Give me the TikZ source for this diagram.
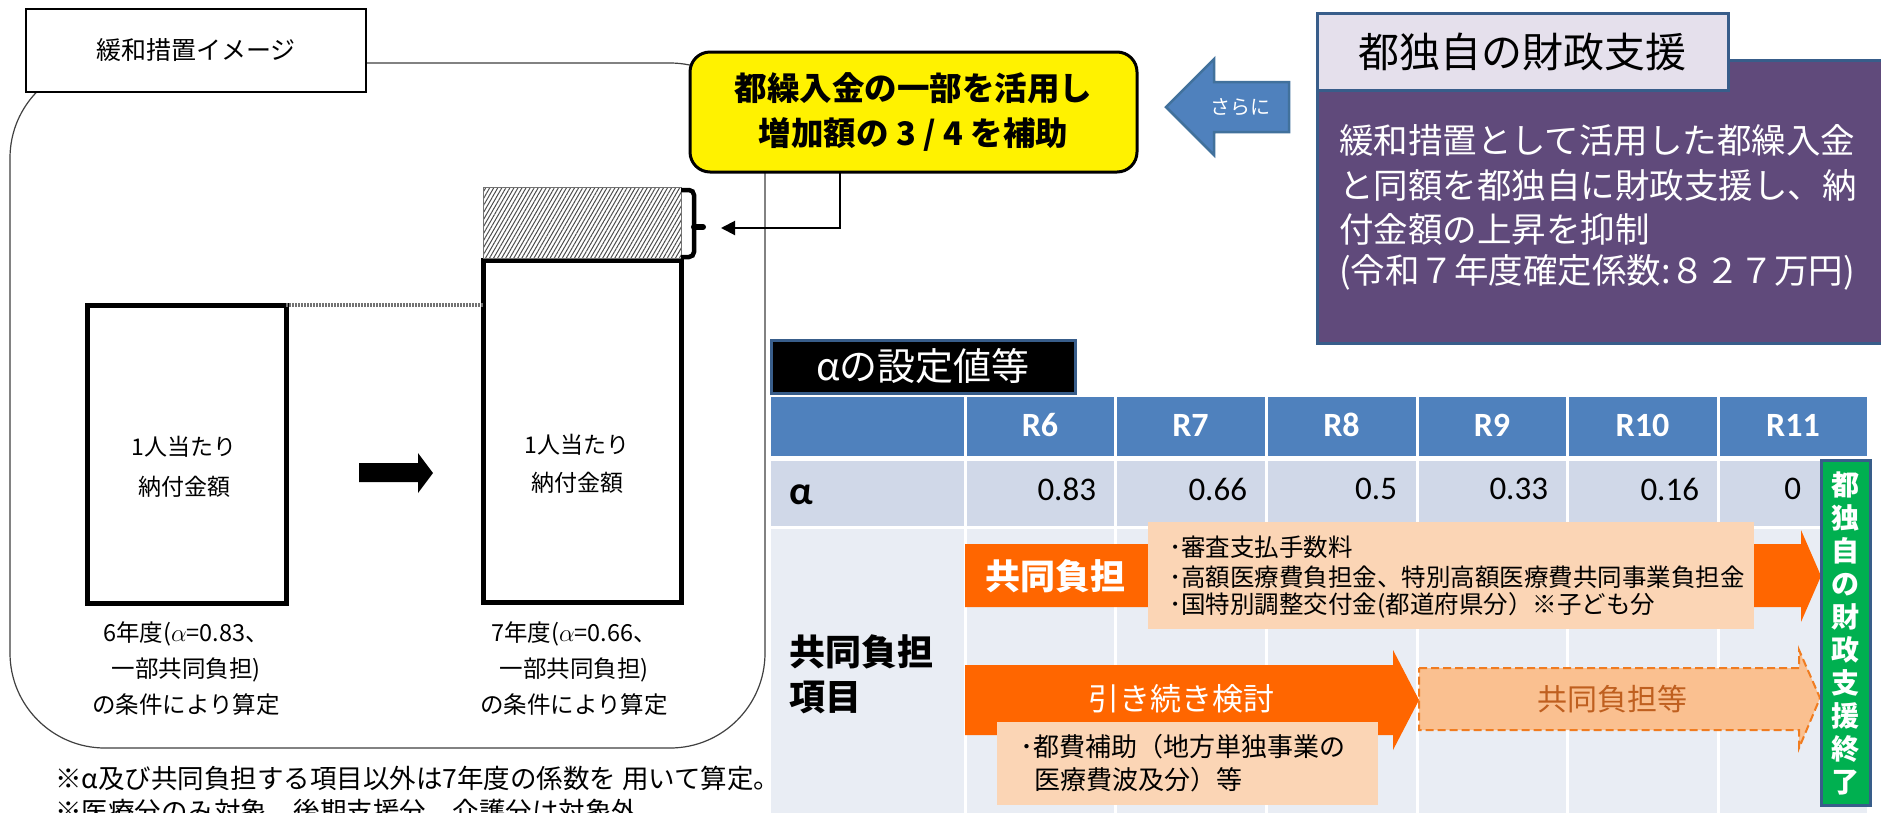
\documentclass[tikz,border=0pt]{standalone}
\usepackage{fontspec}
\setmainfont{Noto Sans CJK JP}
\newfontfamily\lat{Carlito}
\usetikzlibrary{arrows.meta,patterns.meta}
\definecolor{hdrblue}{HTML}{4F81BD}
\definecolor{rowa}{HTML}{D0D8E8}
\definecolor{rowb}{HTML}{E9EDF4}
\definecolor{orng}{HTML}{FF6600}
\definecolor{peach}{HTML}{FBD5B5}
\definecolor{lightorng}{HTML}{FAC090}
\definecolor{dashorng}{HTML}{F07C20}
\definecolor{brownorng}{HTML}{BF5F1F}
\definecolor{purp}{HTML}{604A7B}
\definecolor{lav}{HTML}{E5E0EC}
\definecolor{bordblue}{HTML}{385D8A}
\definecolor{arrblue}{HTML}{4F81BD}
\definecolor{arrblueb}{HTML}{41719C}
\definecolor{grn}{HTML}{00B050}
\newcommand{\myfs}[2]{\fontsize{#1}{#2}\selectfont}
\tikzset{
  thickbar/.style={draw, line width=5pt},
  bluebord/.style={draw=bordblue, line width=3pt},
  peachbox/.style={fill=peach},
}
\begin{document}
\begin{tikzpicture}[x=1pt,y=-1pt, every node/.style={inner sep=0pt, outer sep=0pt}]
\useasboundingbox (0,0) rectangle (1881,812);
\fill[white] (0,0) rectangle (1881,812);

% ---------- left panel ----------
\node[draw=black!75, line width=1.2pt, rounded corners=95pt, minimum width=755, minimum height=685] (panel) at (387.5,405.5) {};
\node[draw, line width=1.2pt, fill=white, minimum width=340, minimum height=83, font=\myfs{25}{28}] (title) at (196,50.5) {緩和措置イメージ};

\node[thickbar, minimum width=199, minimum height=298] (bar6) at (186.5,454) {};
\node[thickbar, minimum width=198, minimum height=342] (bar7) at (582,431) {};
\node[draw=black!55, line width=1pt, minimum width=198, minimum height=71,
      pattern={Lines[angle=60,distance=3.5pt,line width=1pt]}, pattern color=black!70] (hatch) at (582,222.5) {};

\node[align=center, font=\myfs{23}{40}] (t6) at (184,467) {1人当たり\\納付金額};
\node[align=center, font=\myfs{23}{38}] (t7) at (577,464) {1人当たり\\納付金額};

\draw[black!55, line width=4pt, dash pattern=on 1.5pt off 1.5pt] (bar6.north east) -- (bar6.north east -| bar7.west);

\fill (359,463) -- (418,463) -- (418,453) -- (433,473) -- (418,493) -- (418,482) -- (359,482) -- cycle;

\node[align=center, font=\myfs{23.5}{36}] (c6) at (186,669) {6年度($\alpha$=0.83、\\一部共同負担)\\の条件により算定};
\node[align=center, font=\myfs{23.5}{36}] (c7) at (574,669) {7年度($\alpha$=0.66、\\一部共同負担)\\の条件により算定};

\node[anchor=west, font=\myfs{26.5}{33}] (note1) at (55,778) {※α及び共同負担する項目以外は7年度の係数を 用いて算定。};
\node[anchor=west, font=\myfs{26.5}{33}] (note2) at (55,811) {※医療分のみ対象、後期支援分、介護分は対象外};

% bracket
\draw[line width=4.5pt, rounded corners=5pt] (681,190) -- (694,190) -- (694,257) -- (681,257);
\draw[line width=6pt, line cap=round] (694,227) -- (703,227);

% yellow box and connector
\node[draw, line width=3pt, fill=yellow, rounded corners=20pt, minimum width=447, minimum height=120, align=center, font=\bfseries\myfs{32.5}{45}] (yellow) at (913.5,112)
  {都繰入金の一部を活用し\\増加額の 3 / 4 を補助};
\coordinate (brkpt) at (721,228);
\draw[line width=2pt, -{Triangle[length=14pt,width=14pt]}] (yellow.south -| 840,0) |- (brkpt);

% blue arrow
\draw[fill=arrblue, draw=arrblueb, line width=2.5pt, line join=miter] (1166,107) -- (1214,59) -- (1214,82) -- (1289,82) -- (1289,132) -- (1214,132) -- (1214,155) -- cycle;
\node[text=white, font=\myfs{20}{24}] (sarani) at (1240,107) {さらに};

% ---------- purple box ----------
\node[bluebord, fill=purp, minimum width=568, minimum height=283] (purple) at (1601,201.5) {};
\node[bluebord, fill=lav, minimum width=411, minimum height=77, font=\myfs{41}{45}] (hdr) at (1522.5,51.5) {都独自の財政支援};
\node[anchor=west, text=white, font=\myfs{34.5}{40}] (b1) at (1339,140) {緩和措置として活用した都繰入金};
\node[anchor=west, text=white, font=\myfs{34.5}{40}] (b2) at (1339,185) {と同額を都独自に財政支援し、納};
\node[anchor=west, text=white, font=\myfs{34.5}{40}] (b3) at (1339,229) {付金額の上昇を抑制};
\node[anchor=west, text=white, font=\myfs{34.5}{40}] (b4) at (1339,272) {(令和７年度確定係数:８２７万円)};

% ---------- table ----------
\node[bluebord, fill=black, minimum width=304, minimum height=53, text=white, font=\myfs{38}{40}] (alphattl) at (923,366.5) {αの設定値等};

\fill[hdrblue] (771,397) rectangle (963.5,456);
\fill[rowa] (771,461) rectangle (963.5,526);
\fill[rowb] (771,529) rectangle (963.5,820);
\foreach \cl/\cr/\lab/\val/\vx in {965/1115/R6/0.83/1096, 1115/1266/R7/0.66/1247, 1266/1417/R8/0.5/1397, 1417/1567/R9/0.33/1548, 1567/1718/R10/0.16/1699, 1718/1868/R11/0/1801}{
  \fill[hdrblue] (\cl+1.5,397) rectangle (\cr-1.5,456);
  \fill[rowa] (\cl+1.5,461) rectangle (\cr-1.5,526);
  \fill[rowb] (\cl+1.5,529) rectangle (\cr-1.5,820);
  \node[text=white, font=\lat\bfseries\myfs{34}{36}] (h\lab) at ({(\cl+\cr)/2},425) {\lab};
  \node[anchor=east, font=\lat\myfs{33}{36}] (v\lab) at (\vx,489) {\val};
}
\node[anchor=west, font=\lat\bfseries\myfs{40}{42}] (alab) at (789,495) {α};
\node[anchor=west, align=left, font=\bfseries\myfs{36}{45}] (rowlab) at (789,674.5) {共同負担\\項目};

% row arrows
\fill[orng] (965,544) -- (1801,544) -- (1801,530) -- (1821,576) -- (1801,622) -- (1801,607) -- (965,607) -- cycle;
\node[text=white, font=\bfseries\myfs{35}{38}] (kyodo) at (1055,576) {共同負担};
\node[peachbox, minimum width=606, minimum height=107] (peach1) at (1451,575.5) {};
\node[anchor=west, font=\myfs{24.5}{29}] (p1) at (1169,547) {･審査支払手数料};
\node[anchor=west, font=\myfs{24.5}{29}] (p2) at (1169,577) {･高額医療費負担金、特別高額医療費共同事業負担金};
\node[anchor=west, font=\myfs{24.5}{29}] (p3) at (1169,605) {･国特別調整交付金(都道府県分）※子ども分};

\fill[orng] (965,665) -- (1393,665) -- (1393,650) -- (1419,700) -- (1393,750) -- (1393,735) -- (965,735) -- cycle;
\node[text=white, font=\myfs{31}{34}] (kento) at (1181,699) {引き続き検討};
\node[peachbox, minimum width=381, minimum height=83] (peach2) at (1187.5,763.5) {};
\node[anchor=west, font=\myfs{26}{33}] (q1) at (1020,747) {･都費補助（地方単独事業の};
\node[anchor=west, font=\myfs{26}{33}] (q2) at (1034,780) {医療費波及分）等};

\draw[fill=lightorng, draw=dashorng, line width=2pt, dash pattern=on 8pt off 4pt] (1419,668) -- (1799,668) -- (1799,650) -- (1820,698) -- (1799,748) -- (1799,730) -- (1419,730) -- cycle;
\node[text=brownorng, font=\myfs{30}{34}] (kyodo2) at (1612,699) {共同負担等};

\node[bluebord, fill=grn, minimum width=49, minimum height=345] (green) at (1845.5,632.5) {};
\node[text=white, align=center, font=\bfseries\myfs{28}{33}] (greentxt) at (1845.5,633) {都\\独\\自\\の\\財\\政\\支\\援\\終\\了};
\end{tikzpicture}
\end{document}
